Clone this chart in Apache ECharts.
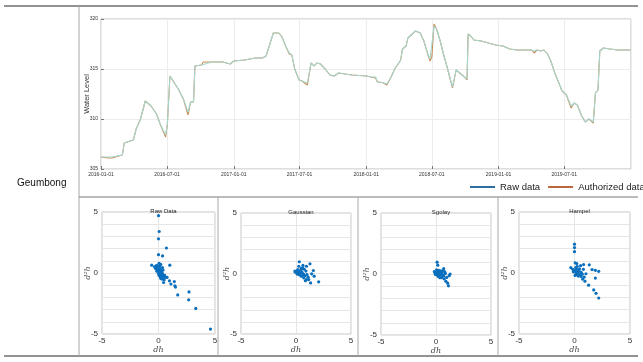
<!DOCTYPE html>
<html>
<head>
<meta charset="utf-8">
<script src="https://cdn.jsdelivr.net/npm/echarts@6/dist/echarts.min.js"></script>
<style>
  html, body { margin: 0; padding: 0; background: #fff; }
  #main { width: 643px; height: 362px; }
</style>
</head>
<body>
<div id="main"></div>
<script>
// water level series
var dates = ['2016-01-01','2016-01-21','2016-01-31','2016-02-29','2016-03-05','2016-03-30','2016-04-07','2016-04-19','2016-05-02','2016-05-18','2016-06-02','2016-06-12','2016-06-27','2016-07-02','2016-07-09','2016-08-01','2016-08-15','2016-08-28','2016-09-04','2016-09-12','2016-09-16','2016-10-04','2016-10-09','2016-11-03','2016-12-02','2016-12-22','2017-01-01','2017-01-31','2017-03-01','2017-03-21','2017-03-31','2017-04-07','2017-04-20','2017-04-25','2017-05-05','2017-05-14','2017-05-24','2017-06-03','2017-06-10','2017-06-18','2017-06-30','2017-07-08','2017-07-23','2017-08-02','2017-08-11','2017-08-18','2017-08-28','2017-09-10','2017-09-23','2017-10-05','2017-10-17','2017-11-04','2017-11-23','2017-12-13','2018-01-02','2018-01-14','2018-01-27','2018-02-01','2018-02-15','2018-02-27','2018-03-12','2018-03-22','2018-04-01','2018-04-06','2018-04-11','2018-04-21','2018-04-26','2018-05-05','2018-05-17','2018-05-30','2018-06-09','2018-06-19','2018-06-26','2018-07-01','2018-07-07','2018-07-14','2018-07-24','2018-08-02','2018-08-12','2018-08-27','2018-09-01','2018-09-06','2018-09-16','2018-09-29','2018-10-06','2018-10-09','2018-10-16','2018-10-25','2018-11-14','2018-12-04','2018-12-24','2019-01-13','2019-02-01','2019-02-21','2019-04-02','2019-04-09','2019-04-17','2019-04-27','2019-05-06','2019-05-16','2019-05-26','2019-06-05','2019-06-15','2019-06-25','2019-07-07','2019-07-20','2019-07-28','2019-08-06','2019-08-18','2019-08-28','2019-09-02','2019-09-07','2019-09-19','2019-09-25','2019-10-02','2019-10-07','2019-10-17','2019-11-05','2019-11-25','2019-12-31'];
var rawData = [306.2,306.2,306.2,306.4,307.6,307.9,309.0,310.0,311.8,311.3,310.5,309.5,308.4,309.5,314.3,313.0,312.0,310.7,311.7,311.7,315.3,315.4,315.5,315.7,315.7,315.5,315.8,315.9,316.1,316.1,316.3,317.1,318.6,318.8,318.6,318.2,317.3,316.6,316.4,315.0,313.9,313.8,313.6,315.6,315.3,315.6,315.5,315.0,314.4,314.3,314.6,314.5,314.4,314.35,314.3,314.2,314.2,313.7,313.65,313.5,314.3,315.1,315.6,315.9,317.0,317.3,318.1,318.4,318.8,318.6,317.8,316.6,316.0,316.2,319.3,319.0,317.8,316.5,315.2,313.2,313.2,314.9,314.6,314.2,314.0,318.5,318.3,317.9,317.8,317.6,317.4,317.3,317.0,316.9,316.9,316.8,316.9,316.8,316.9,316.5,315.7,314.6,313.7,312.8,312.4,311.3,311.6,311.4,310.3,309.7,309.6,310.0,309.7,312.6,312.9,316.8,317.1,317.0,316.9,316.9];
var authData = [306.2,306.1,306.1,306.4,307.6,307.9,309.0,310.0,311.8,311.3,310.5,309.5,308.2,309.5,314.3,313.0,312.0,310.4,311.7,311.7,315.3,315.4,315.7,315.7,315.7,315.5,315.8,315.9,316.1,316.1,316.3,317.1,318.6,318.8,318.6,318.2,317.3,316.5,316.4,315.0,313.9,313.8,313.4,315.6,315.3,315.6,315.5,315.0,314.4,314.3,314.6,314.5,314.4,314.35,314.3,314.2,314.1,313.7,313.65,313.4,314.3,315.1,315.6,315.9,317.0,317.3,318.1,318.4,318.8,318.6,317.8,316.6,315.8,316.2,319.5,319.0,317.8,316.5,315.2,313.1,313.2,314.9,314.6,314.2,313.9,318.5,318.3,317.9,317.8,317.6,317.4,317.3,317.0,316.9,316.9,316.6,316.9,316.8,316.9,316.5,315.7,314.6,313.7,312.8,312.4,311.1,311.6,311.4,310.3,309.7,309.6,310.0,309.6,312.6,312.9,316.8,317.1,317.0,316.9,316.9];

// dh / d2h scatter panels
var panelTitles = ['Raw Data', 'Gaussian', 'Sgolay', 'Hampel'];
var rawScatter = [[0,4.7],[0.06,3.4],[0,2.8],[0.7,2.05],[0,1.5],[0.36,1.4],[1.0,0.64],[-0.6,0.64],[-0.35,0.5],[-0.2,0.6],[0.05,0.8],[0.1,0.55],[0.2,0.7],[-0.25,0.35],[-0.1,0.4],[0,0.3],[0.1,0.2],[0.15,0.35],[0.25,0.2],[-0.15,0.15],[0.05,0.05],[0.2,0],[0.3,0.1],[0.1,-0.1],[0.25,-0.15],[0.35,-0.05],[0.4,0.25],[0.15,-0.3],[0.3,-0.3],[0.45,-0.2],[0.05,-0.2],[0.2,-0.45],[0.4,-0.4],[0.55,-0.2],[0.3,-0.5],[0.5,-0.55],[0.6,-0.35],[0.45,-0.78],[0.76,-0.36],[0.97,-0.64],[1.1,-0.9],[1.4,-0.7],[1.45,-1.05],[1.5,-1.15],[1.7,-1.8],[2.7,-1.55],[2.67,-2.2],[3.3,-2.9],[4.6,-4.6],[0.35,0.45],[-0.05,0.6],[0,-0.05],[0.12,0.12]];
var gaussianScatter = [[0.3,0.97],[1.27,0.8],[0.63,0.67],[0.95,0.6],[1.58,0.25],[1.42,-0.03],[1.65,-0.22],[2.06,-0.69],[1.33,-0.78],[0.95,-0.5],[1.1,-0.3],[0.7,-0.08],[0.9,0.2],[0.47,0.42],[0.16,0.33],[-0.06,0.11],[0.16,0.08],[0.47,-0.22],[0.7,-0.36],[0.25,0.6],[0.4,0.2],[0.55,0.1],[0.3,-0.1],[0.1,-0.05],[-0.1,0.2],[0.2,0.25],[0.6,-0.1],[0.8,-0.2],[1.0,-0.1],[0.35,0.05],[0.05,0.15],[0.5,0.35],[0.75,0.35],[1.15,-0.5],[0.85,-0.6],[0.6,0.45]];
var sgolayScatter = [[0.1,0.97],[0.16,0.72],[0.7,0.44],[0.8,0.17],[1.28,0],[1.2,-0.14],[0.9,-0.6],[1.06,-0.75],[1.13,-0.97],[0.97,-0.28],[-0.1,0.1],[0,0.05],[0.1,0.2],[0.2,0.1],[0.3,0.15],[0.4,0],[0.5,0.1],[0.6,-0.05],[0.3,-0.15],[0.15,-0.1],[-0.05,-0.05],[0.45,0.25],[0.55,-0.2],[0.65,0.25],[0.7,-0.15],[0.25,0.3],[0.05,0.35],[0.35,-0.3],[0.85,0.05],[0.5,-0.3],[0.2,-0.2],[-0.15,0.2],[0.75,-0.4]];
var hampelScatter = [[0,2.36],[0,2.08],[0,1.75],[0.06,0.83],[0.2,0.78],[0.82,0.69],[1.33,0.67],[1.58,0.28],[1.88,0.22],[2.18,0.14],[1.03,-0.06],[0.88,-0.33],[1.88,-0.42],[0.6,-0.28],[0.73,-0.5],[0.94,-0.67],[1.27,-1.0],[1.73,-1.39],[1.94,-1.67],[2.18,-2.05],[-0.33,0.44],[0,0.2],[0.1,0.1],[0.2,0.3],[0.3,0.05],[0.4,0.2],[0.15,-0.1],[-0.1,0.1],[0.05,-0.2],[0.25,-0.15],[0.35,-0.25],[0.5,-0.1],[0.45,0.35],[0.6,0.05],[0.1,0.45],[0.25,0.55],[-0.15,0.3],[0.55,0.6],[0.7,-0.1],[0.8,0.3]];
var scatterSets = [rawScatter, gaussianScatter, sgolayScatter, hampelScatter];

var chart = echarts.init(document.getElementById('main'));

var rawPairs = dates.map(function (d, i) { return [d, rawData[i]]; });
var authPairs = dates.map(function (d, i) { return [d, authData[i]]; });

// panel boxes (left, width, top, height)
var boxes = [[102, 113, 212, 122], [241, 110, 213, 121], [381, 110, 213, 122], [519, 111, 212, 122]];

var grids = [{ left: 101, right: 12, top: 19, bottom: 193, show: true, borderColor: '#bcbcbc', borderWidth: 1 }];
var xAxes = [{
    type: 'time', gridIndex: 0,
    min: '2016-01-01', max: '2020-01-01',
    minInterval: 180 * 86400000, maxInterval: 185 * 86400000,
    axisLine: { show: false }, axisTick: { inside: true, length: 3, lineStyle: { color: '#777' } },
    axisLabel: { fontSize: 5, color: '#333', margin: 3, showMaxLabel: false, formatter: '{yyyy}-{MM}-{dd}', hideOverlap: false },
    splitLine: { show: true, lineStyle: { color: '#ececec' } }
}];
var yAxes = [{
    type: 'value', gridIndex: 0, min: 305, max: 320, interval: 5,
    name: 'Water Level', nameLocation: 'middle', nameGap: 10, nameMoveOverlap: false,
    nameTextStyle: { fontSize: 7.5, color: '#333', fontFamily: 'Liberation Sans' },
    axisLine: { show: false }, axisTick: { show: true, inside: true, length: 3, lineStyle: { color: '#777' } },
    axisLabel: { fontSize: 5, color: '#333', margin: 3 },
    splitLine: { show: true, lineStyle: { color: '#ececec' } }
}];
var titles = [];
var series = [
    { name: 'Authorized data', type: 'line', xAxisIndex: 0, yAxisIndex: 0, data: authPairs, showSymbol: false, lineStyle: { color: '#c98a52', width: 1.1 }, itemStyle: { color: '#c98a52' } },
    { name: 'Raw data', type: 'line', xAxisIndex: 0, yAxisIndex: 0, data: rawPairs, showSymbol: false, lineStyle: { color: '#a6d7cf', width: 1.1 }, itemStyle: { color: '#a6d7cf' } }
];

boxes.forEach(function (b, i) {
    grids.push({ left: b[0], width: b[1], top: b[2], height: b[3], show: true, borderColor: '#c4c4c4', borderWidth: 1 });
    xAxes.push({
        type: 'value', gridIndex: i + 1, min: -5, max: 5, interval: 5,
        name: 'dh', nameLocation: 'middle', nameGap: 9,
        nameTextStyle: { fontSize: 8, fontStyle: 'italic', fontFamily: 'DejaVu Serif', color: '#444' },
        axisLine: { show: false }, axisTick: { show: false },
        axisLabel: { fontSize: 8, color: '#333', margin: 3, fontFamily: 'Liberation Sans' },
        splitLine: { show: true, lineStyle: { color: '#e6e6e6' } }
    });
    yAxes.push({
        type: 'value', gridIndex: i + 1, min: -5, max: 5, interval: 1,
        name: 'd²h', nameLocation: 'middle', nameGap: 10, nameMoveOverlap: false,
        nameTextStyle: { fontSize: 8, fontStyle: 'italic', fontFamily: 'DejaVu Serif', color: '#444' },
        axisLine: { show: false }, axisTick: { show: false },
        axisLabel: {
            fontSize: 8, color: '#333', margin: 4, fontFamily: 'Liberation Sans',
            formatter: function (v) { return v % 5 === 0 ? String(v) : ''; }
        },
        splitLine: { show: true, lineStyle: { color: '#e6e6e6' } }
    });
    titles.push({
        text: panelTitles[i], left: b[0] + b[1] / 2, top: b[2] - 9, textAlign: 'center',
        textStyle: { fontSize: 6, fontWeight: 'normal', color: '#222', fontFamily: 'Liberation Sans' }
    });
    series.push({
        name: panelTitles[i], type: 'scatter', xAxisIndex: i + 1, yAxisIndex: i + 1,
        data: scatterSets[i], symbol: 'circle', symbolSize: 3.2,
        itemStyle: { color: '#0a6fbd', opacity: 1 }
    });
});

chart.setOption({
    animation: false,
    backgroundColor: '#fff',
    title: titles,
    legend: {
        left: 465, top: 177, width: 400, orient: 'horizontal',
        icon: 'rect', itemWidth: 25, itemHeight: 2, itemGap: 8,
        textStyle: { fontSize: 9.5, color: '#222', fontFamily: 'Liberation Sans' },
        data: [
            { name: 'Raw data', itemStyle: { color: '#2f6ea3' } },
            { name: 'Authorized data', itemStyle: { color: '#b8683c' } }
        ]
    },
    grid: grids,
    xAxis: xAxes,
    yAxis: yAxes,
    series: series,
    graphic: [
        // table frame
        { type: 'line', shape: { x1: 4, y1: 6, x2: 638, y2: 6 }, style: { stroke: '#6e6e6e', lineWidth: 1.5 }, silent: true },
        { type: 'line', shape: { x1: 4, y1: 356, x2: 638, y2: 356 }, style: { stroke: '#6e6e6e', lineWidth: 1.5 }, silent: true },
        { type: 'line', shape: { x1: 79, y1: 6, x2: 79, y2: 356 }, style: { stroke: '#a8a8a8', lineWidth: 1 }, silent: true },
        { type: 'line', shape: { x1: 79, y1: 197, x2: 638, y2: 197 }, style: { stroke: '#7a7a7a', lineWidth: 1 }, silent: true },
        { type: 'line', shape: { x1: 218, y1: 197, x2: 218, y2: 356 }, style: { stroke: '#a8a8a8', lineWidth: 1 }, silent: true },
        { type: 'line', shape: { x1: 358, y1: 197, x2: 358, y2: 356 }, style: { stroke: '#a8a8a8', lineWidth: 1 }, silent: true },
        { type: 'line', shape: { x1: 498, y1: 197, x2: 498, y2: 356 }, style: { stroke: '#a8a8a8', lineWidth: 1 }, silent: true },
        { type: 'text', left: 17, top: 178, style: { text: 'Geumbong', fontSize: 10, fill: '#111', font: '10px "Liberation Sans"' } }
    ]
});

window.onresize = function () {
    chart.resize();
};
</script>
</body>
</html>
